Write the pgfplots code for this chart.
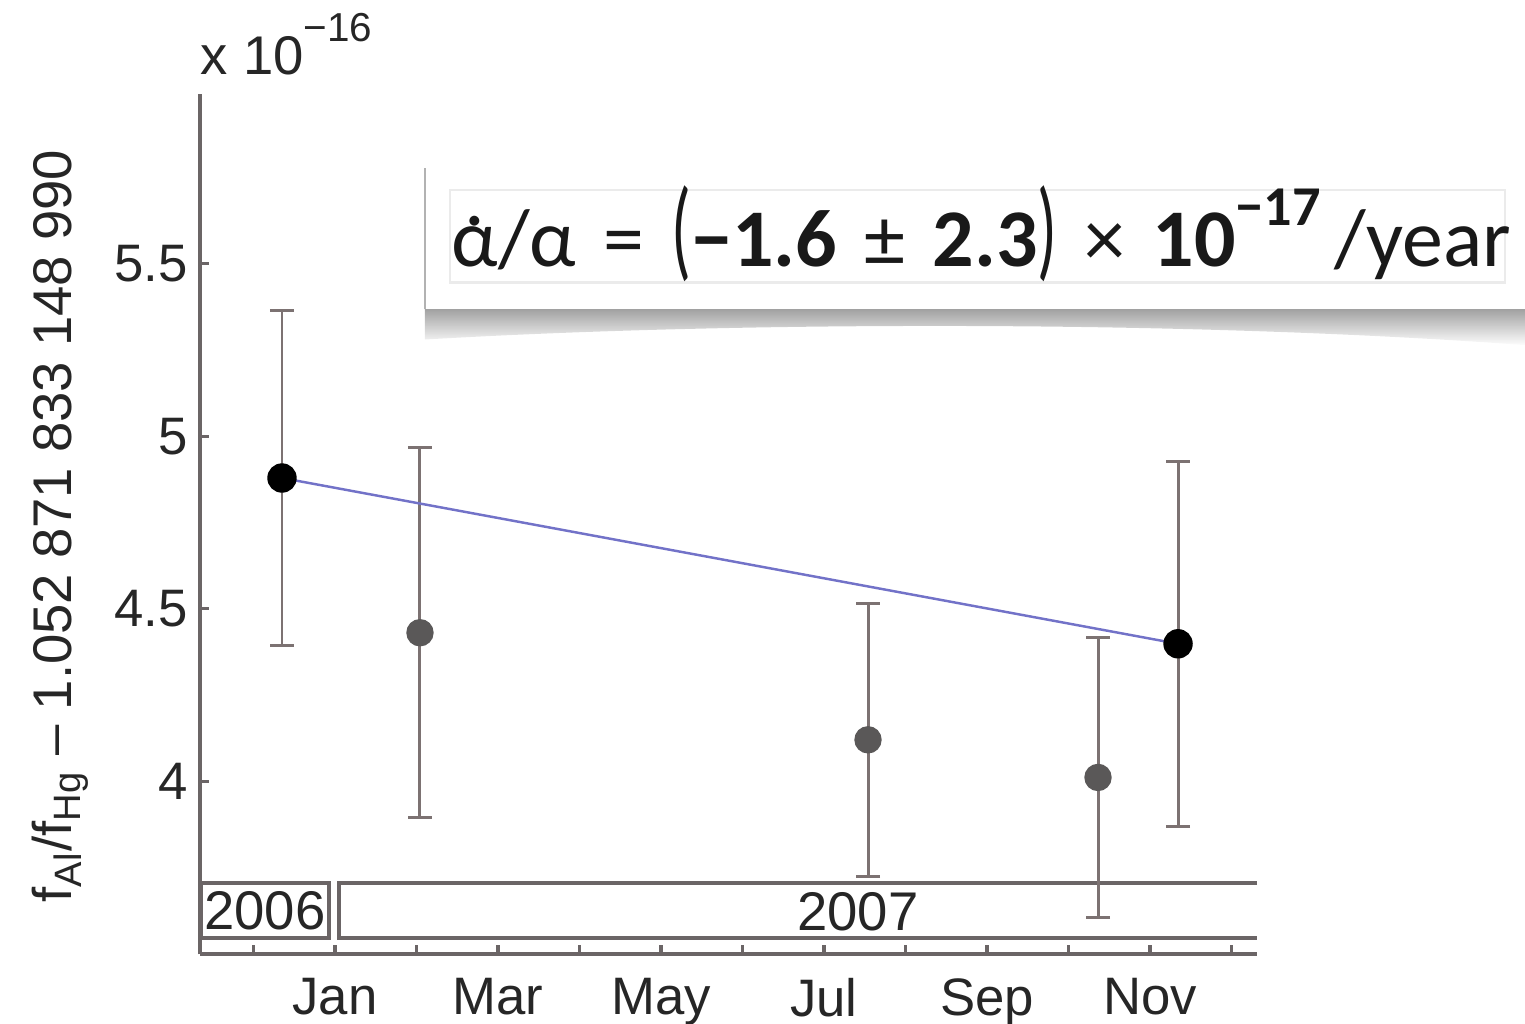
\documentclass[border=0pt]{standalone}
\usepackage{graphicx}
\usepackage{pgfplots}
\pgfplotsset{compat=1.18}
\usepackage{fontspec}
\setmainfont{Liberation Sans}
\newfontfamily\carlito{Carlito}
\definecolor{axisgray}{HTML}{6B6566}
\definecolor{errgray}{HTML}{7C7272}
\definecolor{ptgray}{HTML}{5A5858}
\definecolor{fitblue}{HTML}{7272C8}
\pgfplotstableread{
x y err
0.350 4.879 0.485
2.043 4.431 0.536
7.540 4.121 0.395
10.362 4.012 0.405
11.344 4.399 0.528
}\datatable
\begin{document}
\begin{tikzpicture}
\begin{axis}[
  scale only axis, width=10.57cm, height=8.6cm,
  xmin=-0.656, xmax=12.313, ymin=3.5, ymax=5.99,
  axis x line*=bottom, axis y line*=left,
  axis line style={axisgray, line width=1.1pt},
  tick align=inside, major tick length=0.09cm,
  tick style={axisgray, line width=0.9pt},
  xtick={0,...,12}, xticklabels={,Jan,,Mar,,May,,Jul,,Sep,,Nov,},
  ytick={4,4.5,5,5.5},
  /pgf/number format/assume math mode=true,
  ticklabel style={font=\fontsize{15}{18}\selectfont, text=black!85},
  xticklabel style={yshift=-0.12cm},
  clip=false,
]
% year boxes
\draw[axisgray, line width=1.1pt] (axis cs:-0.644,3.5462) rectangle (axis cs:0.926,3.7052);
\draw[axisgray, line width=1.1pt] (axis cs:12.313,3.7052) -- (axis cs:1.049,3.7052) -- (axis cs:1.049,3.5462) -- (axis cs:12.313,3.5462);
\node[font=\fontsize{15.5}{18}\selectfont, text=black!85] at (axis cs:0.141,3.627) {2006};
\node[font=\fontsize{15.5}{18}\selectfont, text=black!85] at (axis cs:7.417,3.622) {2007};
% error bars
\addplot[errgray, only marks, mark=none,
  error bars/.cd, y dir=both, y explicit,
  error bar style={errgray, line width=0.85pt},
  error mark options={errgray, line width=0.85pt, mark size=0.12cm, rotate=90}]
  table[x=x, y=y, y error=err] {\datatable};
% fit line
\addplot[fitblue, line width=0.7pt, no marks] coordinates {(0.350,4.879) (11.344,4.399)};
% points
\addplot[only marks, mark=*, mark size=0.14cm, black] coordinates {(0.350,4.879) (11.344,4.399)};
\addplot[only marks, mark=*, mark size=0.13cm, ptgray, mark options={fill=ptgray, draw=ptgray}] coordinates {(2.043,4.431) (7.540,4.121) (10.362,4.012)};
% labels
\node[rotate=90, font=\fontsize{15.5}{18}\selectfont, text=black!85] at (axis cs:-2.374,4.74)
  {f\textsubscript{Al}/f\textsubscript{Hg} -- 1.052 871 833 148 990};
\node[anchor=base west, inner sep=0pt, font=\fontsize{15.5}{18}\selectfont, text=black!85] at (axis cs:-0.656,6.046)
  {x 10\raisebox{0.62em}{\fontsize{11.5}{13}\selectfont −16}};
% annotation box with shadow
\shade[top color=black!60, bottom color=white, opacity=0.8]
  (axis cs:2.104,5.40) -- (axis cs:15.70,5.40) -- (axis cs:15.70,5.262)
  .. controls (axis cs:11.613,5.335) and (axis cs:6.092,5.335) .. (axis cs:2.104,5.280) -- cycle;
\fill[white] (axis cs:2.104,5.3671) rectangle (axis cs:15.70,5.7775);
\draw[black!30, line width=0.8pt] (axis cs:2.104,5.3671) -- (axis cs:2.104,5.7775);
\draw[black!8, line width=0.6pt] (axis cs:2.411,5.4451) rectangle (axis cs:15.356,5.7139);
\node[font=\carlito\fontsize{23.3}{26}\selectfont, text=black!90, inner sep=0pt] at (axis cs:8.93,5.585)
  {{\ooalign{α\cr\hidewidth\raisebox{0.5em}{.}\hidewidth\cr}}/α\,\,=\,\,\scalebox{0.8}[1.35]{(}\textbf{−1.6}\,\,±\,\,\textbf{2.3}\scalebox{0.8}[1.35]{)}\,\,×\,\,\textbf{10}\raisebox{0.5em}{\fontsize{16}{18}\selectfont\textbf{−17}}\,/year};
\coordinate (bbSW) at (axis cs:-3.110,3.3006);
\coordinate (bbNE) at (axis cs:15.601,6.263);
\end{axis}
\pgfresetboundingbox
\path[use as bounding box] (bbSW) rectangle (bbNE);
\end{tikzpicture}
\end{document}
